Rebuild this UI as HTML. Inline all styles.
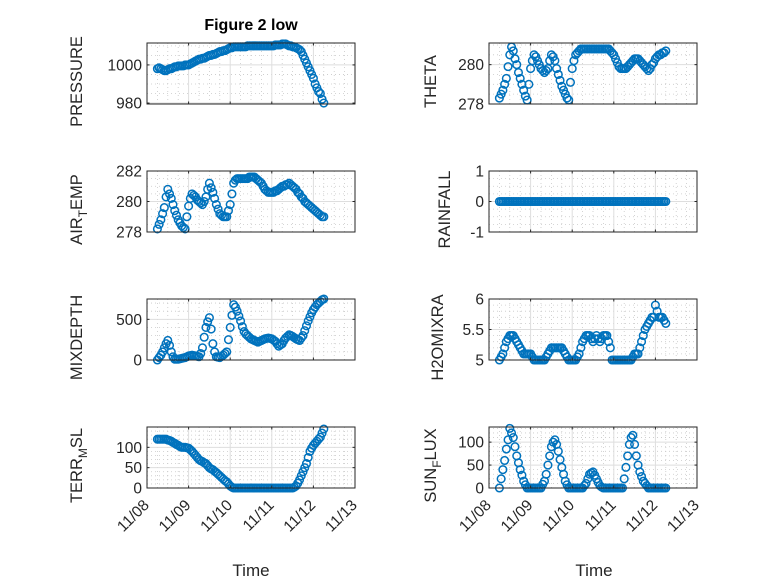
<!DOCTYPE html>
<html><head><meta charset="utf-8"><style>
html,body{margin:0;padding:0;background:#fff}
svg{display:block;font-family:"Liberation Sans","DejaVu Sans",sans-serif}
</style></head><body>
<svg id="fig" width="778" height="583" viewBox="0 0 778 583" xmlns="http://www.w3.org/2000/svg">
<rect width="778" height="583" fill="#fff"/>
<text x="251" y="30" text-anchor="middle" font-size="16" font-weight="bold" fill="#000">Figure 2 low</text>
<text x="251" y="576" text-anchor="middle" font-size="17" fill="#262626">Time</text>
<text x="594" y="576" text-anchor="middle" font-size="17" fill="#262626">Time</text>
</svg>
<script>
// time axis: days after 11/08 00:00, hourly samples from tStart to tEnd
const tStart = 0.25, tEnd = 4.25;
const xTickLabels = ["11/08","11/09","11/10","11/11","11/12","11/13"];
const pressure = [998,998.5,998,997.5,997,997,997.5,998,998,998.5,999,999,999.5,999.5,999.5,999.5,1000,1000,1000,1000.5,1001,1001.5,1002,1002.5,1003,1003,1003.5,1003.5,1004,1004.5,1005,1005,1005.5,1005.5,1006,1006.5,1007,1007,1007.5,1007.5,1008,1008.5,1009,1009,1009.5,1009.5,1009.5,1009.5,1009.5,1009.5,1009.5,1009.5,1010,1010,1010,1010,1010,1010,1010,1010,1010,1010,1010,1010,1010,1010,1010,1010,1010.5,1010.5,1010.5,1010.5,1011,1011,1011,1010.5,1010,1010,1009.5,1009.5,1009,1008.5,1008,1007,1005,1003,1001,999,997,995,993,990,988,986,985,982,980];
const theta = [278.3,278.5,278.7,279.0,279.3,279.9,280.5,280.9,280.7,280.3,280.0,279.6,279.3,279.0,278.7,278.4,278.2,279.0,279.8,280.2,280.5,280.4,280.2,280.0,279.8,279.7,279.6,279.7,279.8,280.2,280.5,280.4,280.2,279.8,279.5,279.2,278.9,278.7,278.5,278.3,278.2,279.1,279.8,280.2,280.5,280.6,280.7,280.8,280.8,280.8,280.8,280.8,280.8,280.8,280.8,280.8,280.8,280.8,280.8,280.8,280.8,280.8,280.8,280.8,280.7,280.6,280.5,280.3,280.1,279.9,279.8,279.8,279.8,279.8,279.9,280.0,280.1,280.2,280.3,280.3,280.3,280.2,280.1,280.0,279.9,279.8,279.7,279.8,280.0,280.1,280.3,280.4,280.5,280.5,280.6,280.6,280.7];
const airTemp = [278.2,278.5,278.8,279.2,279.6,280.3,280.8,280.5,280.2,279.8,279.4,279.1,278.8,278.6,278.4,278.3,278.2,279.0,279.7,280.2,280.5,280.4,280.3,280.1,280.0,279.9,279.8,280.0,280.3,280.8,281.2,280.9,280.6,280.2,279.8,279.5,279.2,279.1,279.0,279.0,279.0,279.4,279.8,280.5,281.2,281.4,281.5,281.5,281.5,281.5,281.5,281.5,281.5,281.6,281.6,281.6,281.6,281.5,281.4,281.3,281.2,281.0,280.8,280.7,280.6,280.6,280.6,280.6,280.7,280.7,280.8,280.9,281.0,281.0,281.1,281.1,281.2,281.1,281.0,280.9,280.8,280.6,280.5,280.3,280.2,280.0,279.9,279.8,279.7,279.6,279.5,279.4,279.3,279.2,279.1,279.0,279.0];
const rainfall = [0,0,0,0,0,0,0,0,0,0,0,0,0,0,0,0,0,0,0,0,0,0,0,0,0,0,0,0,0,0,0,0,0,0,0,0,0,0,0,0,0,0,0,0,0,0,0,0,0,0,0,0,0,0,0,0,0,0,0,0,0,0,0,0,0,0,0,0,0,0,0,0,0,0,0,0,0,0,0,0,0,0,0,0,0,0,0,0,0,0,0,0,0,0,0,0,0];
const mixDepth = [0,30,60,100,150,200,240,180,100,40,10,10,10,15,20,25,30,40,50,55,60,55,50,45,40,80,150,280,400,470,520,380,200,100,40,35,30,45,60,80,100,250,400,550,680,650,600,540,480,410,350,320,300,280,260,250,240,230,220,230,240,250,260,265,270,265,260,245,230,200,170,185,200,240,270,290,310,300,290,275,260,250,240,270,300,360,420,480,530,580,620,650,680,700,720,740,750];
const h2oMix = [5.0,5.05,5.1,5.2,5.3,5.35,5.4,5.4,5.4,5.35,5.3,5.25,5.2,5.15,5.1,5.1,5.1,5.1,5.1,5.05,5.0,5.0,5.0,5.0,5.0,5.0,5.0,5.05,5.1,5.15,5.2,5.2,5.2,5.2,5.2,5.2,5.2,5.15,5.1,5.05,5.0,5.0,5.0,5.0,5.0,5.05,5.1,5.2,5.3,5.35,5.4,5.4,5.4,5.35,5.3,5.35,5.4,5.35,5.3,5.35,5.4,5.4,5.4,5.3,5.2,5.0,5.0,5.0,5.0,5.0,5.0,5.0,5.0,5.0,5.0,5.0,5.0,5.05,5.1,5.1,5.1,5.2,5.3,5.4,5.5,5.55,5.6,5.65,5.7,5.7,5.9,5.8,5.7,5.7,5.7,5.65,5.6];
const terrMsl = [120,120,120,120,120,120,118,117,115,112,110,107,105,102,100,100,100,99,98,94,90,85,80,75,70,67,65,62,60,55,50,47,45,41,38,34,30,26,22,18,15,10,5,2,0,0,0,0,0,0,0,0,0,0,0,0,0,0,0,0,0,0,0,0,0,0,0,0,0,0,0,0,0,0,0,0,0,0,0,2,5,12,20,30,40,50,60,75,90,98,105,110,115,120,125,135,145];
const sunFlux = [0,20,40,60,85,105,130,120,110,90,70,55,40,28,15,7,0,0,0,0,0,0,0,0,0,8,15,30,50,70,90,100,105,95,80,62,45,30,15,7,0,0,0,0,0,0,0,0,0,5,10,20,30,33,35,28,20,12,5,2,0,0,0,0,0,0,0,0,0,0,0,0,20,45,70,95,110,115,95,70,50,35,25,15,10,5,0,0,0,0,0,0,0,0,0,0,0];

const pTicks=[980,1000], thTicks=[278,280], atTicks=[278,280,282], rfTicks=[-1,0,1], mdTicks=[0,500], h2Ticks=[5,5.5,6], tmTicks=[0,50,100], sfTicks=[0,50,100];

const NS="http://www.w3.org/2000/svg";
const svg=document.getElementById('fig');
function mk(tag,attrs,parent){const e=document.createElementNS(NS,tag);for(const k in attrs)e.setAttribute(k,attrs[k]);(parent||svg).appendChild(e);return e;}

const W=208, H=61;
const panels=[
 {name:'pressure',x:147,y:43,lo:979.5,hi:1011.5,data:pressure,ticks:pTicks,minor:[985,990,995,1005,1010],label:['PRESSURE'],lx:82},
 {name:'theta',x:489,y:43,lo:278,hi:281.1,data:theta,ticks:thTicks,minor:[278.5,279,279.5,280.5,281],label:['THETA'],lx:436},
 {name:'air-temp',x:147,y:171,lo:278,hi:282,data:airTemp,ticks:atTicks,minor:[278.5,279,279.5,280.5,281,281.5],label:['AIR','T','EMP'],lx:82},
 {name:'rainfall',x:489,y:171,lo:-1,hi:1,data:rainfall,ticks:rfTicks,minor:[-0.75,-0.5,-0.25,0.25,0.5,0.75],label:['RAINFALL'],lx:450},
 {name:'mixdepth',x:147,y:299,lo:0,hi:750,data:mixDepth,ticks:mdTicks,minor:[100,200,300,400,600,700],label:['MIXDEPTH'],lx:82},
 {name:'h2omixra',x:489,y:299,lo:5,hi:6,data:h2oMix,ticks:h2Ticks,minor:[5.1,5.2,5.3,5.4,5.6,5.7,5.8,5.9],label:['H2OMIXRA'],lx:443},
 {name:'terr-msl',x:147,y:427,lo:0,hi:150,data:terrMsl,ticks:tmTicks,minor:[10,20,30,40,60,70,80,90,110,120,130,140],label:['TERR','M','SL'],lx:82,xl:true},
 {name:'sun-flux',x:489,y:427,lo:0,hi:133,data:sunFlux,ticks:sfTicks,minor:[10,20,30,40,60,70,80,90,110,120,130],label:['SUN','F','LUX'],lx:436,xl:true}
];

panels.forEach(p=>{
 const g=mk('g',{});
 
 
 const xs=d=>p.x+d/5*W;
 const ys=v=>p.y+H-(v-p.lo)/(p.hi-p.lo)*H;
 const n=p.data.length, step=(tEnd-tStart)/Math.max(1,n-1);
 mk('rect',{x:p.x,y:p.y,width:W,height:H,fill:'#fff'},g);
 for(let d=0.25;d<5;d+=0.25){ if(Math.abs(d-Math.round(d))<1e-6) continue;
  mk('line',{x1:xs(d),x2:xs(d),y1:p.y,y2:p.y+H,stroke:'#c8c8c8','stroke-width':0.8,'stroke-dasharray':'1 3'},g);}
 p.minor.forEach(v=>mk('line',{x1:p.x,x2:p.x+W,y1:ys(v),y2:ys(v),stroke:'#c8c8c8','stroke-width':0.8,'stroke-dasharray':'1 3'},g));
 for(let d=1;d<5;d++) mk('line',{x1:xs(d),x2:xs(d),y1:p.y,y2:p.y+H,stroke:'#dedede','stroke-width':1},g);
 p.ticks.forEach(v=>mk('line',{x1:p.x,x2:p.x+W,y1:ys(v),y2:ys(v),stroke:'#dedede','stroke-width':1},g));
 p.data.forEach((v,i)=>{
  const c=mk('circle',{cx:xs(tStart+i*step),cy:ys(v),r:3.8,fill:'none',stroke:'#0072BD','stroke-width':1.5},g);
  
  
 });
 mk('rect',{x:p.x,y:p.y,width:W,height:H,fill:'none',stroke:'#262626','stroke-width':1},g);
 for(let d=0;d<=5;d++){
  mk('line',{x1:xs(d),x2:xs(d),y1:p.y+H,y2:p.y+H-2.5,stroke:'#262626'},g);
  mk('line',{x1:xs(d),x2:xs(d),y1:p.y,y2:p.y+2.5,stroke:'#262626'},g);
 }
 p.ticks.forEach(v=>{
  mk('line',{x1:p.x,x2:p.x+2.5,y1:ys(v),y2:ys(v),stroke:'#262626'},g);
  mk('line',{x1:p.x+W,x2:p.x+W-2.5,y1:ys(v),y2:ys(v),stroke:'#262626'},g);
  const t=mk('text',{x:p.x-5,y:ys(v)+5.5,'text-anchor':'end','font-size':15.5,fill:'#262626'},g);
  t.textContent=String(v);
  
  
 });
 const cy=p.y+H/2;
 const yl=mk('text',{x:0,y:0,'text-anchor':'middle','font-size':16.5,fill:'#262626',transform:`translate(${p.lx},${cy+8}) rotate(-90)`},g);
 
 
 if(p.label.length===1){yl.textContent=p.label[0];}
 else{
  const a=mk('tspan',{},yl);a.textContent=p.label[0];
  const b=mk('tspan',{'font-size':12,dy:5},yl);b.textContent=p.label[1];
  const c=mk('tspan',{dy:-5},yl);c.textContent=p.label[2];
 }
 if(p.xl){
  xTickLabels.forEach((s,d)=>{
   const tx=xs(d)+3, ty=p.y+H+18;
   const t=mk('text',{x:0,y:0,'text-anchor':'end','font-size':15.5,fill:'#262626',transform:`translate(${tx},${ty}) rotate(-45)`},g);
   t.textContent=s;
   
   
  });
 }
});
</script>
</body></html>
